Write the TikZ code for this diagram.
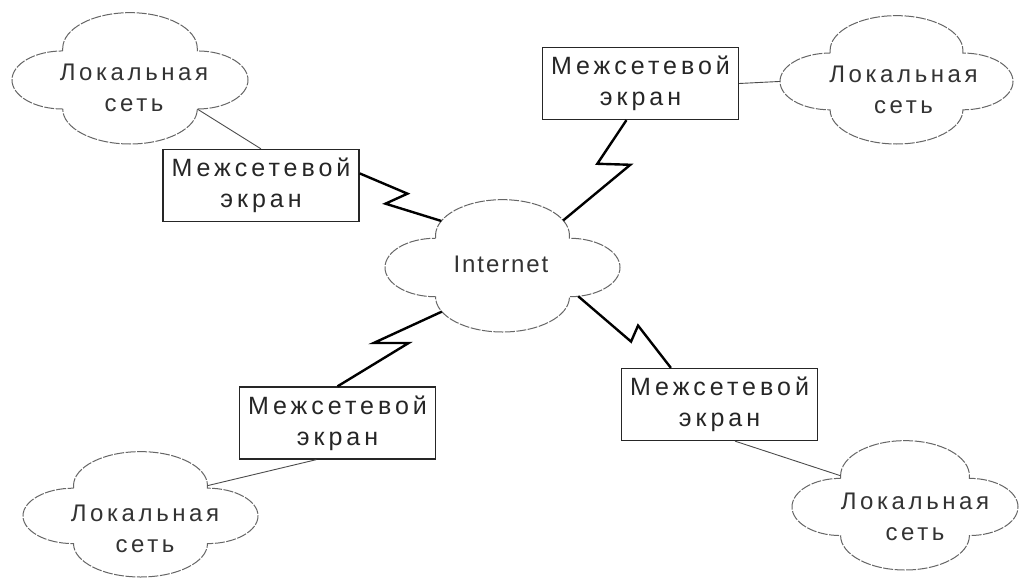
\documentclass[tikz,border=0pt]{standalone}
\usepackage{fontspec}
\setmainfont{Liberation Sans}[LetterSpace=15]
\newfontfamily\boxfont{Liberation Sans}[LetterSpace=16]
\newfontfamily\inetfont{Liberation Sans}[LetterSpace=8]
\usetikzlibrary{calc}
\tikzset{
  cloudline/.style={draw=black!60, line width=1pt, dash pattern=on 10pt off 1.5pt},
  cloudtext/.style={inner sep=0pt, align=center, text=black!80, font=\fontsize{24}{31}\selectfont},
  fwbox/.style={draw=black!85, line width=1.3pt, minimum width=196pt, minimum height=72pt, inner sep=0pt, align=center, text=black!85, font=\boxfont\fontsize{25}{31}\selectfont},
  zig/.style={draw=black, line width=2.4pt, line join=miter},
  thinlink/.style={draw=black!70, line width=0.9pt}
}
% #1 name, #2 cx, #3 cy, #4 half width, #5 half height
\newcommand\drawmycloud[5]{%
  \begin{scope}[shift={(#2,#3)}, xscale=#4, yscale=#5]
    \draw[cloudline] (-0.57,-0.41) -- (-0.57,-0.45)
      arc[start angle=180, end angle=360, x radius=0.57, y radius=0.54]
      -- (0.57,-0.41)
      arc[start angle=270, end angle=450, x radius=0.43, y radius=0.44]
      arc[start angle=0, end angle=180, x radius=0.57, y radius=0.53]
      arc[start angle=90, end angle=270, x radius=0.43, y radius=0.44]
      -- cycle;
    \coordinate (#1-tl) at (-0.57,-0.45);
    \coordinate (#1-tr) at (0.57,-0.45);
    \coordinate (#1-br) at (0.57,0.47);
    \coordinate (#1-bl) at (-0.57,0.47);
    \coordinate (#1-w) at (-1,0.03);
    \coordinate (#1-ta) at ([shift={(0,-0.45)}]204:0.57 and 0.54);
    \coordinate (#1-tb) at ([shift={(0,-0.45)}]335:0.57 and 0.54);
    \coordinate (#1-ba) at ([shift={(0,0.47)}]155:0.57 and 0.53);
    \coordinate (#1-bb) at ([shift={(0.57,0.03)}]80:0.43 and 0.44);
  \end{scope}}
\begin{document}
\begin{tikzpicture}[x=1pt, y=-1pt]
\fill[white] (0,0) rectangle (1019,578);
\useasboundingbox (0,0) rectangle (1019,578);

% clouds
\drawmycloud{c1}{130}{78}{118}{66}
\drawmycloud{c2}{896.5}{79.5}{116.5}{64.5}
\drawmycloud{c3}{140.5}{514}{117.5}{63}
\drawmycloud{c4}{905}{505}{113}{65}
\drawmycloud{ci}{502.5}{265.5}{117.5}{66.5}

\node[cloudtext] (lan1) at (134,88) {Локальная\\сеть};
\node[cloudtext] (lan2) at (903.5,90) {Локальная\\сеть};
\node[cloudtext] (lan3) at (145,529) {Локальная\\сеть};
\node[cloudtext] (lan4) at (915,517) {Локальная\\сеть};
\node[cloudtext, font=\inetfont\fontsize{24}{31}\selectfont] (inet) at (501,264) {Internet};

% firewalls
\node[fwbox] (fw1) at (261,185.5) {Межсетевой\\экран};
\node[fwbox] (fw2) at (640.5,83.5) {Межсетевой\\экран};
\node[fwbox] (fw3) at (337.5,423) {Межсетевой\\экран};
\node[fwbox] (fw4) at (719.5,404.5) {Межсетевой\\экран};

% thin links
\draw[thinlink] (c1-br) -- (fw1.north);
\draw[thinlink] (fw2.east) -- (c2-w);
\draw[thinlink] (fw3.240) -- (c3-tr);
\draw[thinlink] (fw4.293) -- (c4-tl);

% lightning links
\draw[zig] (fw1.7) -- ($(fw1.7)!0.5!(ci-ta)+(7,-3.5)$) -- ($(fw1.7)!0.5!(ci-ta)+(-15,6.5)$) -- (ci-ta);
\draw[zig] (fw2.249) -- ($(fw2.249)!0.5!(ci-tb)+(2.5,-6.5)$) -- ($(fw2.249)!0.5!(ci-tb)+(35.5,-5.5)$) -- (ci-tb);
\draw[zig] (ci-ba) -- ($(ci-ba)!0.5!(fw3.north)+(-16,-6)$) -- ($(ci-ba)!0.5!(fw3.north)+(19,-6)$) -- (fw3.north);
\draw[zig] (ci-bb) -- ($(ci-bb)!0.5!(fw4.143)+(6.5,9.5)$) -- ($(ci-bb)!0.5!(fw4.143)+(13.5,-6.5)$) -- (fw4.143);
\end{tikzpicture}
\end{document}
